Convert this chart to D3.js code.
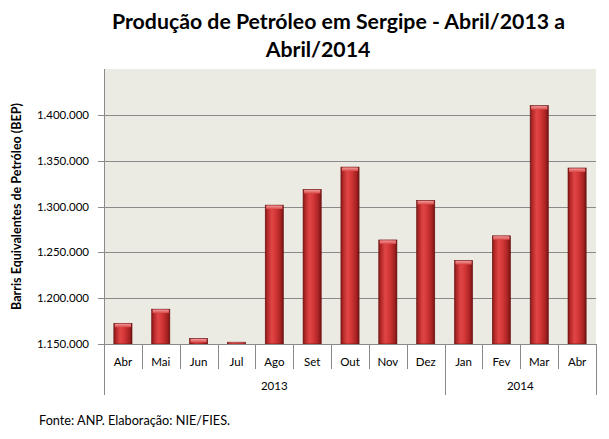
<!DOCTYPE html>
<html>
<head>
<meta charset="utf-8">
<script src="https://cdn.jsdelivr.net/npm/d3@7"></script>
<style>
  html, body { margin: 0; padding: 0; background: #ffffff; }
  svg { display: block; }
  text { font-family: Lato, "Open Sans", sans-serif; fill: #000; }
</style>
</head>
<body>
<svg id="chart" width="609" height="439"></svg>
<script>
// ---- data ----
const titleLines = ["Produção de Petróleo em Sergipe - Abril/2013 a", "Abril/2014"];
const yAxisTitle = "Barris Equivalentes de Petróleo (BEP)";
const source = "Fonte: ANP. Elaboração: NIE/FIES.";
const months = ["Abr", "Mai", "Jun", "Jul", "Ago", "Set", "Out", "Nov", "Dez", "Jan", "Fev", "Mar", "Abr"];
const years = ["2013", "2014"];
const yearMonthCounts = [9, 4];
const values = [1172600, 1188000, 1156000, 1152000, 1301500, 1318500, 1343000, 1263500, 1306500, 1241000, 1268000, 1410000, 1342000];
const yTicks = [1150000, 1200000, 1250000, 1300000, 1350000, 1400000];

(function () {
// ---- layout ----
const svg = d3.select("#chart");
const pLeft = 104, pRight = 596, pTop = 69, pBottom = 344;
const monthRowBottom = 369, yearRowBottom = 395;

const x = d3.scaleBand().domain(d3.range(months.length)).range([pLeft, pRight]).paddingInner(0.52).paddingOuter(0.26);
const y = d3.scaleLinear().domain([1150000, 1450000]).range([pBottom, pTop]);
const fmt = d3.formatLocale({ decimal: ",", thousands: ".", grouping: [3], currency: ["", ""] }).format(",");

function fit(sel, w) {
  const node = sel.node();
  let fs = parseFloat(sel.attr("font-size"));
  for (let i = 0; i < 3; i++) {
    const len = node.getComputedTextLength();
    if (len > 0) { fs = fs * w / len; sel.attr("font-size", fs); }
  }
}

// defs: bar gradient
const defs = svg.append("defs");
const g1 = defs.append("linearGradient").attr("id", "barGrad").attr("x1", "0").attr("x2", "1").attr("y1", "0").attr("y2", "0");
[[0, "#7e1717"], [0.12, "#b42828"], [0.35, "#e04545"], [0.55, "#d63838"], [0.85, "#a82222"], [1, "#6e1212"]]
  .forEach(([o, c]) => g1.append("stop").attr("offset", o).attr("stop-color", c));
const g2 = defs.append("linearGradient").attr("id", "capGrad").attr("x1", "0").attr("x2", "0").attr("y1", "0").attr("y2", "1");
[[0, "#f29a9a"], [1, "#d84646"]].forEach(([o, c]) => g2.append("stop").attr("offset", o).attr("stop-color", c));

// plot background
svg.append("rect").attr("x", pLeft).attr("y", pTop).attr("width", pRight - pLeft).attr("height", pBottom - pTop).attr("fill", "#ecebe3");

// gridlines + ticks
svg.append("g").selectAll("line").data(yTicks).join("line")
  .attr("x1", pLeft - 6).attr("x2", pRight)
  .attr("y1", d => Math.round(y(d)) + 0.5).attr("y2", d => Math.round(y(d)) + 0.5)
  .attr("stroke", "#8a8a8a").attr("stroke-width", 1);

// y tick labels
svg.append("g").selectAll("text").data(yTicks).join("text")
  .attr("x", 89).attr("y", d => y(d) + 4)
  .attr("text-anchor", "end").attr("font-size", 11.5).attr("fill", "#222")
  .text(d => fmt(d));

// bars
const bars = svg.append("g");
bars.selectAll("rect.bar").data(values).join("rect").attr("class", "bar")
  .attr("x", (d, i) => x(i)).attr("width", x.bandwidth())
  .attr("y", d => y(d)).attr("height", d => pBottom - y(d))
  .attr("fill", "url(#barGrad)").attr("stroke", "#6a1010").attr("stroke-width", 0.6);
bars.selectAll("rect.cap").data(values).join("rect").attr("class", "cap")
  .attr("x", (d, i) => x(i) + 1).attr("width", x.bandwidth() - 2)
  .attr("y", d => y(d) + 0.5).attr("height", d => Math.min(3.5, Math.max(0, pBottom - y(d) - 1)))
  .attr("fill", "url(#capGrad)");

// axes lines
svg.append("line").attr("x1", pLeft + 0.5).attr("x2", pLeft + 0.5).attr("y1", pTop).attr("y2", yearRowBottom).attr("stroke", "#8a8a8a");
svg.append("line").attr("x1", pLeft).attr("x2", pRight).attr("y1", pBottom + 0.5).attr("y2", pBottom + 0.5).attr("stroke", "#8a8a8a");

// month dividers
const step = x.step();
const boundaries = d3.range(months.length + 1).map(i => x(0) - x.paddingOuter() * step + i * step);
const yearBoundaryIdx = [0];
yearMonthCounts.reduce((acc, c) => { yearBoundaryIdx.push(acc + c); return acc + c; }, 0);
svg.append("g").selectAll("line").data(boundaries).join("line")
  .attr("x1", d => Math.round(d) + 0.5).attr("x2", d => Math.round(d) + 0.5)
  .attr("y1", pBottom).attr("y2", (d, i) => yearBoundaryIdx.includes(i) ? yearRowBottom : monthRowBottom)
  .attr("stroke", "#8a8a8a");

// month labels
svg.append("g").selectAll("text").data(months).join("text")
  .attr("x", (d, i) => x(i) + x.bandwidth() / 2).attr("y", 366)
  .attr("text-anchor", "middle").attr("font-size", 11.5).attr("fill", "#222")
  .text(d => d);

// year labels
svg.append("g").selectAll("text").data(years).join("text")
  .attr("x", (d, i) => (boundaries[yearBoundaryIdx[i]] + boundaries[yearBoundaryIdx[i + 1]]) / 2).attr("y", 390)
  .attr("text-anchor", "middle").attr("font-size", 11.5).attr("fill", "#222")
  .text(d => d);

// title
const t1 = svg.append("text").attr("x", 338.5).attr("y", 29).attr("text-anchor", "middle")
  .attr("font-size", 20).attr("font-weight", "bold").text(titleLines[0]);
fit(t1, 453);
svg.append("text").attr("x", 318).attr("y", 57).attr("text-anchor", "middle")
  .attr("font-size", t1.attr("font-size")).attr("font-weight", "bold").text(titleLines[1]);

// y axis title
const yt = svg.append("text").attr("transform", "translate(21,206.5) rotate(-90)").attr("text-anchor", "middle")
  .attr("font-size", 10).attr("font-weight", "bold").text(yAxisTitle);
fit(yt, 207);

// source
const src = svg.append("text").attr("x", 39).attr("y", 425).attr("font-size", 12.5).attr("fill", "#222").text(source);
fit(src, 191);
})();
</script>
</body>
</html>
